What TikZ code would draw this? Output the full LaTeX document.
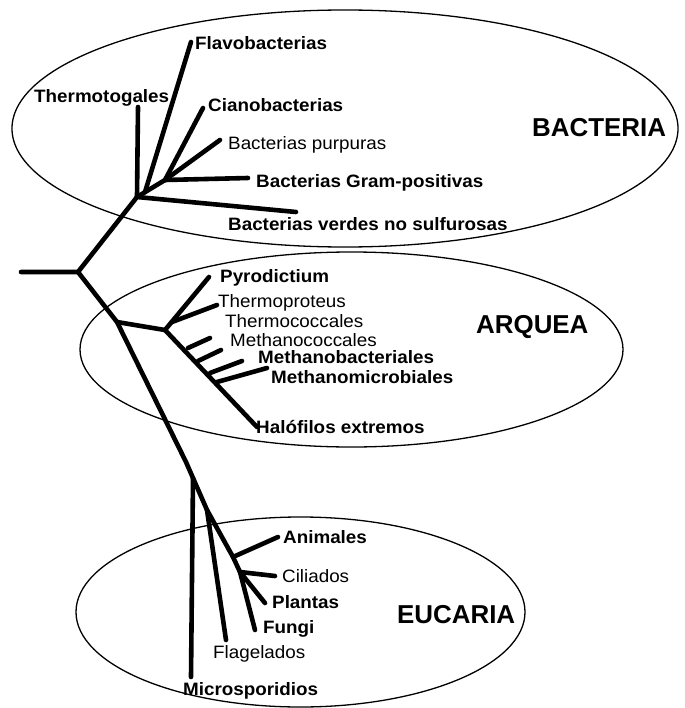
\documentclass[tikz,border=0pt]{standalone}
\usepackage{fontspec}
\setmainfont{Liberation Sans}
\newfontfamily\widesans[FakeStretch=1.05]{Liberation Sans}
\begin{document}
\begin{tikzpicture}[x=1bp,y=-1bp,
  branch/.style={line width=4.6bp, line cap=round, line join=round},
  domainring/.style={line width=1.3bp},
  lab/.style={anchor=base west, inner sep=0pt, font=\widesans\fontsize{18}{18}\selectfont},
  blab/.style={lab, font=\widesans\fontsize{18}{18}\selectfont\bfseries},
  big/.style={anchor=base west, inner sep=0pt, font=\fontsize{26}{26}\selectfont\bfseries}]
\useasboundingbox (0,0) rectangle (685,708);
% domains
\draw[domainring] (345,128.5) ellipse [x radius=333bp, y radius=118.5bp];
\draw[domainring] (351.5,349.5) ellipse [x radius=271.5bp, y radius=97.5bp];
\draw[domainring] (300.5,612) ellipse [x radius=224.5bp, y radius=95bp];
% branch points
\coordinate (r0) at (21,272);
\coordinate (r1) at (78,272);
\coordinate (b1) at (137,197);
\coordinate (b2) at (165,180);
\coordinate (a1) at (117,322);
\coordinate (a2) at (165,330);
\coordinate (at) at (172,322);
\coordinate (e0) at (186,462);
\coordinate (e1) at (193,478);
\coordinate (e2) at (207,510);
\coordinate (e3) at (233,557);
\coordinate (e4) at (240,572);
% tips
\coordinate (tThermotogales) at (138,107);
\coordinate (tFlavoS) at (145,192);
\coordinate (tFlavo) at (191,42);
\coordinate (tCiano) at (203,108);
\coordinate (tPurp) at (220,140);
\coordinate (tGram) at (248,178);
\coordinate (tVerdes) at (296,212);
\coordinate (tPyro) at (209,277);
\coordinate (tThermoP) at (217,305);
\coordinate (m1) at (188,348); \coordinate (n1) at (210,338);
\coordinate (m2) at (198,361); \coordinate (n2) at (221,350);
\coordinate (m3) at (210,373); \coordinate (n3) at (242,361);
\coordinate (m4) at (217,382); \coordinate (n4) at (267,368);
\coordinate (tHalo) at (257,427);
\coordinate (tMicro) at (191,677);
\coordinate (tFlag) at (226,640);
\coordinate (tAnim) at (278,537);
\coordinate (tCil) at (275,576);
\coordinate (tPlant) at (265,603);
\coordinate (tFungi) at (255,630);
% tree
\draw[branch] (r0) -- (r1) -- (b1);
\draw[branch] (r1) -- (a1) -- (e0) -- (e1) -- (e2) -- (e3) -- (e4) -- (tPlant);
\draw[branch] (b1) -- (tThermotogales);
\draw[branch] (tFlavoS) -- (tFlavo);
\draw[branch] (b1) -- (b2) -- (tCiano);
\draw[branch] (b2) -- (tPurp);
\draw[branch] (b2) -- (tGram);
\draw[branch] (b1) -- (tVerdes);
\draw[branch] (a1) -- (a2) -- (tPyro);
\draw[branch] (at) -- (tThermoP);
\draw[branch] (a2) -- (tHalo);
\draw[branch] (m1) -- (n1);
\draw[branch] (m2) -- (n2);
\draw[branch] (m3) -- (n3);
\draw[branch] (m4) -- (n4);
\draw[branch] (e1) -- (tMicro);
\draw[branch] (e2) -- (tFlag);
\draw[branch] (e3) -- (tAnim);
\draw[branch] (e4) -- (tCil);
\draw[branch] (e4) -- (tFungi);
% labels
\node[blab] (lFlavo) at (195,50) {Flavobacterias};
\node[blab] (lThermotogales) at (34,103) {Thermotogales};
\node[blab] (lCiano) at (208,112) {Cianobacterias};
\node[lab] (lPurp) at (228,149) {Bacterias purpuras};
\node[blab] (lGram) at (256,187) {Bacterias Gram-positivas};
\node[blab] (lVerdes) at (228,230) {Bacterias verdes no sulfurosas};
\node[big] (lBact) at (532,137) {BACTERIA};
\node[blab] (lPyro) at (220,282) {Pyrodictium};
\node[lab] (lThermoP) at (218,307) {Thermoproteus};
\node[lab] (lThermoC) at (225,327) {Thermococcales};
\node[lab] (lMethC) at (230,346) {Methanococcales};
\node[blab] (lMethB) at (258,363) {Methanobacteriales};
\node[blab] (lMethM) at (271,383) {Methanomicrobiales};
\node[blab] (lHalo) at (256,433) {Halófilos extremos};
\node[big] (lArq) at (476,333) {ARQUEA};
\node[blab] (lAnim) at (283,543) {Animales};
\node[lab] (lCil) at (282,582) {Ciliados};
\node[blab] (lPlant) at (272,608) {Plantas};
\node[blab] (lFungi) at (263,633) {Fungi};
\node[lab] (lFlag) at (213,658) {Flagelados};
\node[blab] (lMicro) at (183,695) {Microsporidios};
\node[big] (lEuc) at (397,623) {EUCARIA};
\end{tikzpicture}
\end{document}
